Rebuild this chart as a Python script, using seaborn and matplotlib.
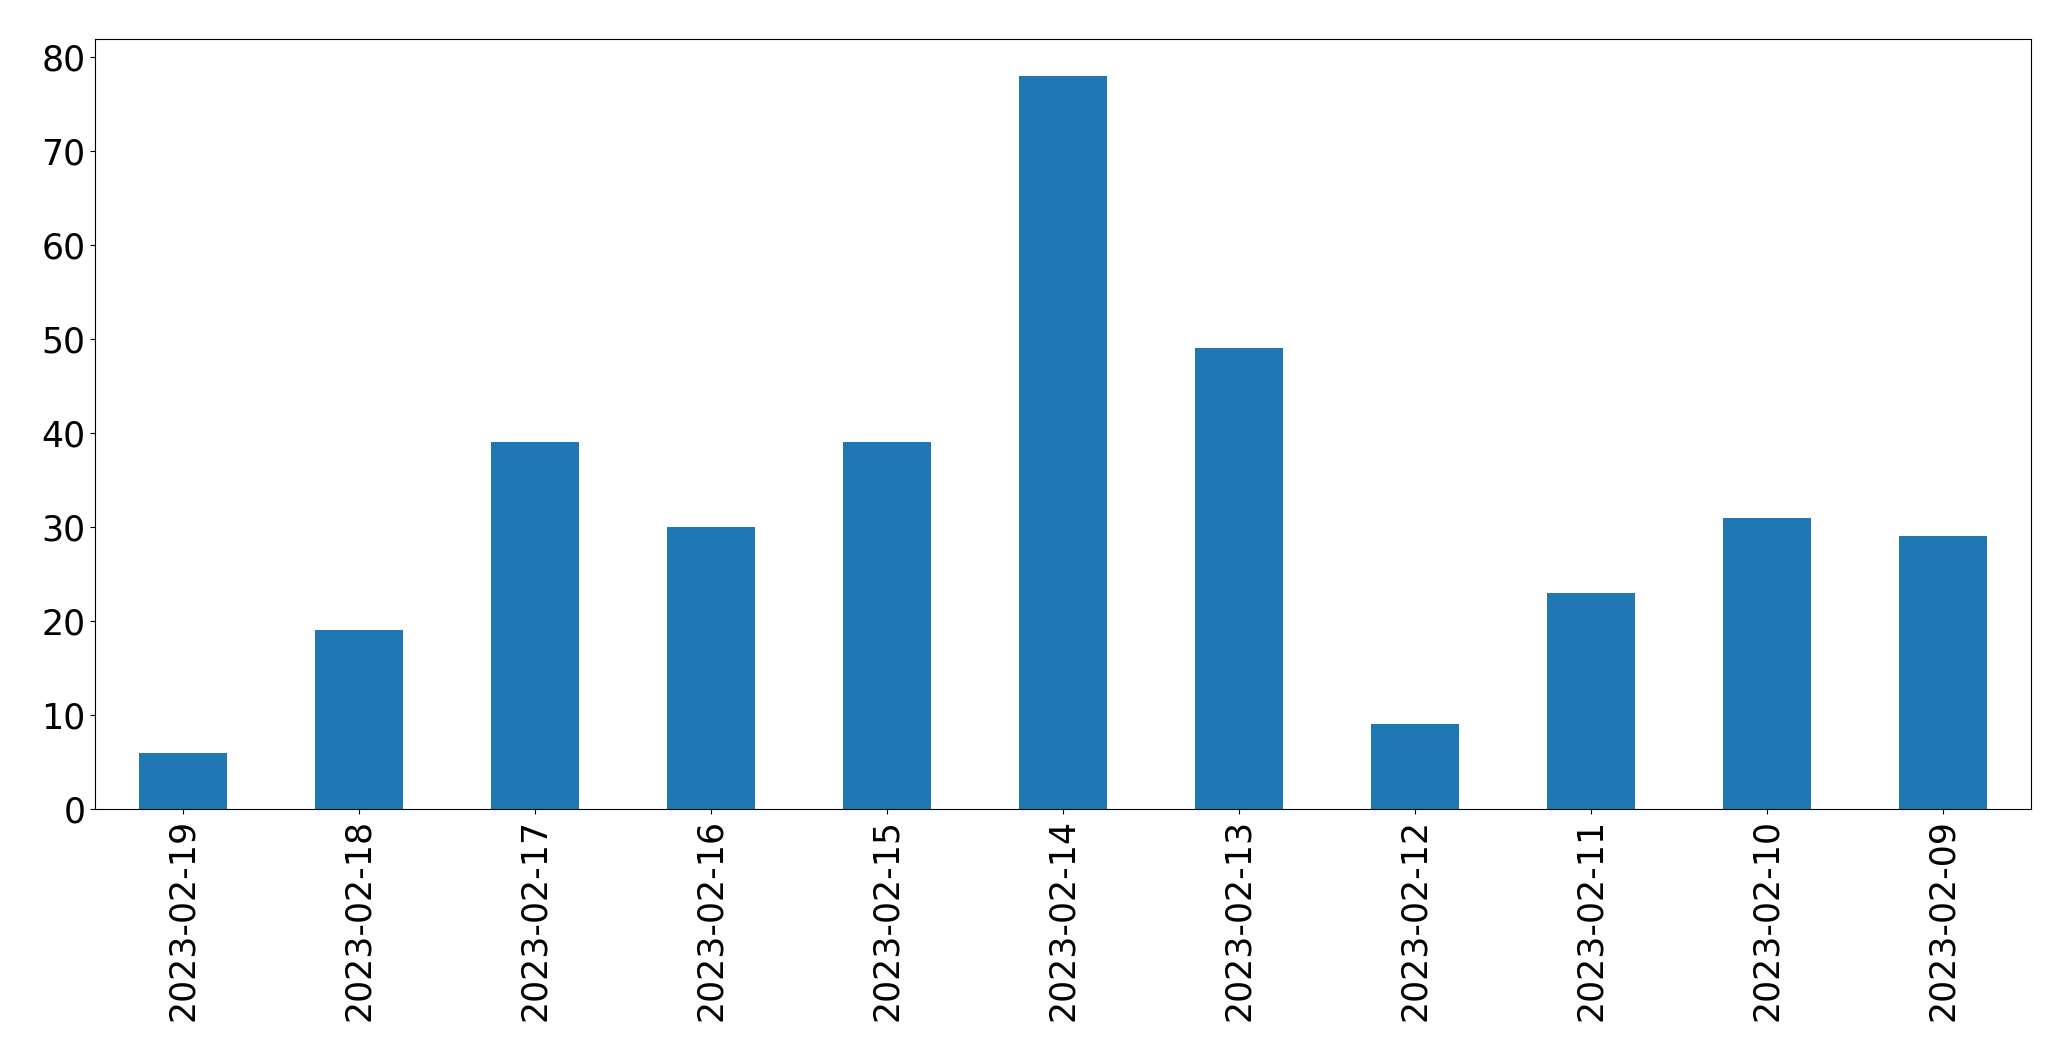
import pandas as pd
import seaborn as sns
import matplotlib.pyplot as plt

# dados
datas = ['2023-02-19', '2023-02-18', '2023-02-17', '2023-02-16', '2023-02-15', '2023-02-14',
         '2023-02-13', '2023-02-12', '2023-02-11', '2023-02-10', '2023-02-09']
contagens = [6, 19, 39, 30, 39, 78, 49, 9, 23, 31, 29]

df = pd.DataFrame({'Data': datas, 'Contagem': contagens})

fig, ax = plt.subplots(figsize=(20.71, 10.61), dpi=100)
fig.subplots_adjust(left=0.0459, right=0.9807, top=0.9632, bottom=0.2375)

sns.barplot(data=df, x='Data', y='Contagem', order=datas, color='#1f77b4',
            saturation=1, width=0.5, linewidth=0, ax=ax)

ax.set_xlim(-0.5, len(datas) - 0.5)
ax.set_ylim(0, max(contagens) * 1.05)
ax.set_xlabel('')
ax.set_ylabel('')
ax.tick_params(axis='both', labelsize=25)
ax.tick_params(axis='x', labelrotation=90)

plt.savefig('out.png', dpi=100)
